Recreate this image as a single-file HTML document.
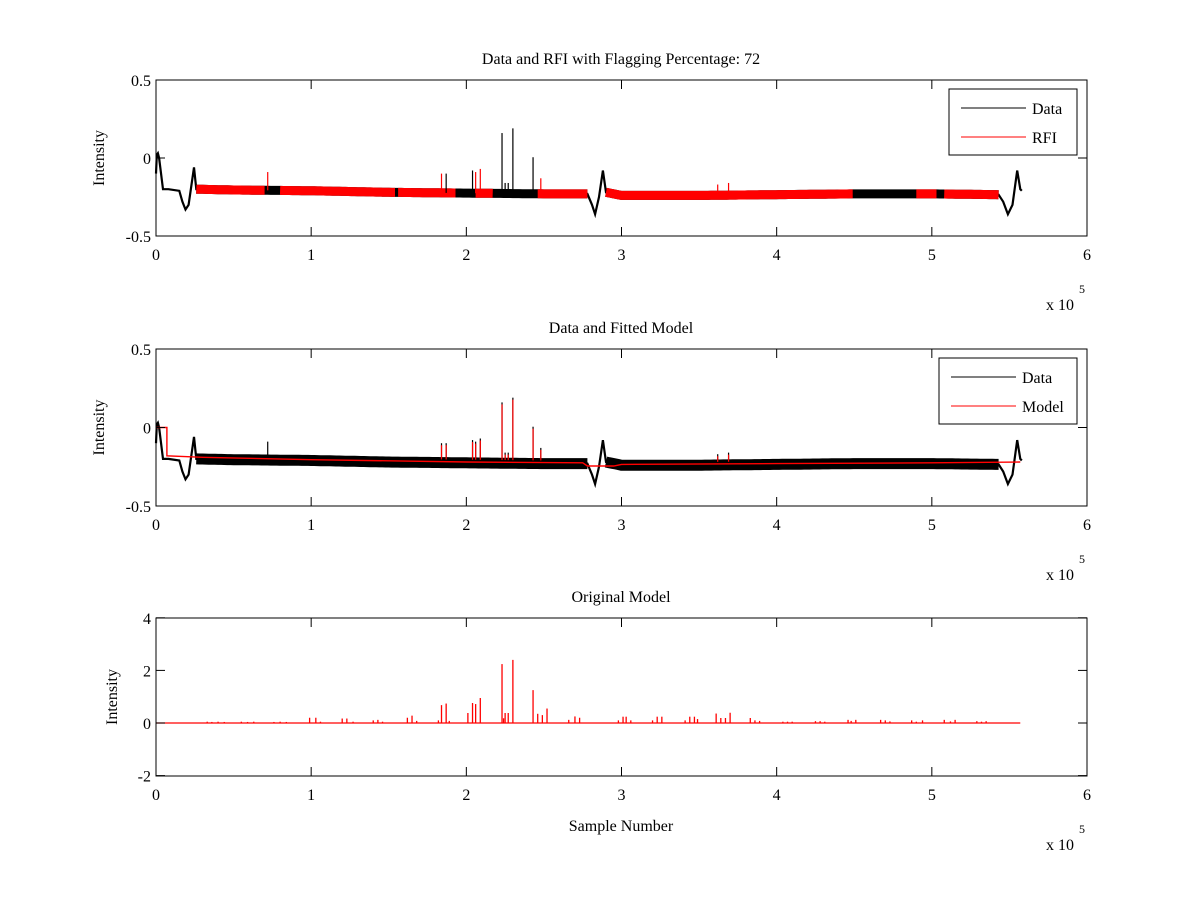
<!DOCTYPE html>
<html><head><meta charset="utf-8"><style>
html,body{margin:0;padding:0;background:#fff;}
svg{display:block;font-family:"Liberation Serif",serif;}
</style></head><body>
<svg id="chart" width="1200" height="900" viewBox="0 0 1200 900" xmlns="http://www.w3.org/2000/svg">
<rect width="1200" height="900" fill="#fff"/>
</svg>
<script>
// ---- data (x in units of 1e5 samples) ----
const trendX = [0, 0.005, 0.012, 0.02, 0.045, 0.08, 0.15, 0.17, 0.19, 0.21, 0.245, 0.26, 0.5, 1.0, 1.5, 2.0, 2.5, 2.78, 2.81, 2.83, 2.855, 2.88, 2.9, 3.0, 3.5, 4.0, 4.5, 5.0, 5.43, 5.46, 5.49, 5.52, 5.55, 5.57, 5.58];
const trendY = [-0.1, 0.02, 0.03, 0.0, -0.2, -0.2, -0.21, -0.28, -0.33, -0.3, -0.06, -0.2, -0.205, -0.21, -0.22, -0.225, -0.23, -0.23, -0.3, -0.36, -0.25, -0.08, -0.22, -0.24, -0.24, -0.235, -0.23, -0.23, -0.235, -0.28, -0.36, -0.3, -0.08, -0.2, -0.21];
const bandRanges = [[0.26, 2.78], [2.9, 5.43]];
const redRanges = [[0.26,0.70],[0.80,1.54],[1.56,1.93],[2.06,2.17],[2.46,2.78],[2.9,4.49],[4.9,5.03],[5.08,5.43]];
const topSpikeX = [0.72, 1.84, 1.87, 2.04, 2.06, 2.09, 2.23, 2.25, 2.27, 2.30, 2.43, 2.48, 3.62, 3.69];
const topSpikeY = [-0.09, -0.10, -0.10, -0.08, -0.09, -0.07, 0.16, -0.16, -0.16, 0.19, 0.005, -0.13, -0.17, -0.16];
const topSpikeRed = [1, 1, 0, 0, 1, 1, 0, 0, 0, 0, 0, 1, 1, 1];
const modelX = [0, 0.07, 0.07, 0.3, 1.0, 2.0, 2.75, 2.78, 2.95, 3.0, 4.0, 5.0, 5.57];
const modelY = [0.0, 0.0, -0.18, -0.19, -0.205, -0.22, -0.225, -0.245, -0.245, -0.235, -0.23, -0.225, -0.22];
const origX = [0.33,0.36,0.40,0.44, 0.55,0.59,0.63, 0.76,0.80,0.84, 0.99,1.03,1.06, 1.20,1.23,1.27, 1.40,1.43,1.46, 1.62,1.65,1.68, 1.82,1.84,1.87,1.89, 2.01,2.04,2.06,2.09, 2.23,2.24,2.25,2.27,2.30, 2.43,2.46,2.49,2.52, 2.66,2.70,2.73, 2.98,3.01,3.03,3.06, 3.20,3.23,3.26, 3.41,3.44,3.47,3.49, 3.61,3.64,3.67,3.70, 3.83,3.86,3.89, 4.04,4.07,4.10, 4.25,4.28,4.31, 4.46,4.48,4.51, 4.67,4.70,4.73, 4.87,4.90,4.94, 5.08,5.12,5.15, 5.29,5.32,5.35];
const origY = [0.05,0.04,0.05,0.04, 0.05,0.04,0.05, 0.04,0.05,0.04, 0.20,0.20,0.05, 0.17,0.17,0.05, 0.10,0.12,0.05, 0.20,0.28,0.08, 0.10,0.68,0.74,0.08, 0.38,0.76,0.72,0.95, 2.24,0.18,0.38,0.38,2.40, 1.25,0.35,0.30,0.55, 0.12,0.25,0.20, 0.10,0.24,0.24,0.10, 0.10,0.24,0.24, 0.10,0.24,0.24,0.15, 0.36,0.19,0.19,0.39, 0.19,0.10,0.08, 0.05,0.05,0.05, 0.07,0.07,0.05, 0.12,0.08,0.12, 0.12,0.10,0.06, 0.10,0.05,0.10, 0.12,0.06,0.12, 0.07,0.05,0.07];
const xTicks = [0,1,2,3,4,5,6];

const NS = "http://www.w3.org/2000/svg";
const svg = document.getElementById("chart");
function el(tag, attrs, parent, text) {
  const e = document.createElementNS(NS, tag);
  for (const k in attrs) e.setAttribute(k, attrs[k]);
  if (text !== undefined) e.textContent = text;
  (parent || svg).appendChild(e);
  return e;
}
const L = 156, R = 1087;
const xs = v => L + (v / 6) * (R - L);
function interp(x) {
  for (let i = 1; i < trendX.length; i++) {
    if (x <= trendX[i]) {
      const t = (x - trendX[i-1]) / (trendX[i] - trendX[i-1] || 1);
      return trendY[i-1] + t * (trendY[i] - trendY[i-1]);
    }
  }
  return trendY[trendY.length - 1];
}
function bandLine(x0, x1, ys) {
  const pts = [];
  const n = Math.max(2, Math.ceil((x1 - x0) / 0.02));
  for (let i = 0; i <= n; i++) {
    const xx = x0 + (x1 - x0) * i / n;
    pts.push(xs(xx).toFixed(1) + "," + ys(interp(xx)).toFixed(1));
  }
  return pts.join(" ");
}
function axes(g, top, bot, yTicks, ys, title, ylabel, ylabX, name) {
  el("rect", {x: L, y: top, width: R - L, height: bot - top, fill: "none", stroke: "#000", "stroke-width": 1}, g);
  xTicks.forEach(t => {
    const x = xs(t);
    el("line", {x1: x, y1: bot, x2: x, y2: bot - 9, stroke: "#000"}, g);
    el("line", {x1: x, y1: top, x2: x, y2: top + 9, stroke: "#000"}, g);
    const lab = el("text", {x: x, y: bot + 24, "text-anchor": "middle", "font-size": 16}, g, String(t));
    
    
  });
  yTicks.forEach(t => {
    const y = ys(t);
    el("line", {x1: L, y1: y, x2: L + 9, y2: y, stroke: "#000"}, g);
    el("line", {x1: R, y1: y, x2: R - 9, y2: y, stroke: "#000"}, g);
    const lab = el("text", {x: L - 5, y: y + 6, "text-anchor": "end", "font-size": 16}, g, String(t));
    
    
  });
  const tt = el("text", {x: 621, y: top - 16, "text-anchor": "middle", "font-size": 16}, g, title);
  
  
  const yl = el("text", {x: ylabX, y: (top + bot) / 2, "text-anchor": "middle", "font-size": 16, transform: `rotate(-90 ${ylabX} ${(top+bot)/2})`}, g, ylabel);
  
  
  const ex = el("text", {x: 1046, y: bot + 74, "font-size": 16}, g, "x 10");
  
  
  el("text", {x: 1079, y: bot + 57, "font-size": 12}, g, "5");
}
function legend(g, x, y, w, labels) {
  const box = el("rect", {x: x, y: y, width: w, height: 66, fill: "#fff", stroke: "#000"}, g);
  
  
  labels.forEach((lb, i) => {
    const ly = y + 19 + i * 29;
    el("line", {x1: x + 12, y1: ly, x2: x + 77, y2: ly, stroke: lb[1], "stroke-width": 1}, g);
    const t = el("text", {x: x + 83, y: ly + 6, "font-size": 16}, g, lb[0]);
    
    
  });
}
function dataTrace(g, ys, bandPx, redBand) {
  const pts = trendX.map((x, i) => xs(x).toFixed(1) + "," + ys(trendY[i]).toFixed(1)).join(" ");
  const line = el("polyline", {points: pts, fill: "none", stroke: "#000", "stroke-width": 2.2}, g);
  
  
  bandRanges.forEach(r => {
    const b = el("polyline", {points: bandLine(r[0], r[1], ys), fill: "none", stroke: "#000", "stroke-width": bandPx, "stroke-linecap": "butt"}, g);
    
    
  });
  if (redBand) redRanges.forEach(r => {
    const b = el("polyline", {points: bandLine(r[0], r[1], ys), fill: "none", stroke: "#f00", "stroke-width": bandPx, "stroke-linecap": "butt"}, g);
    
    
  });
}

// Panel 1
const g1 = el("g", {});  
const ys1 = v => 158 - v * 156;
dataTrace(g1, ys1, 9, true);
topSpikeX.forEach((x, i) => {
  const s = el("line", {x1: xs(x), x2: xs(x), y1: ys1(interp(x)), y2: ys1(topSpikeY[i]), stroke: topSpikeRed[i] ? "#f00" : "#000", "stroke-width": 1.2}, g1);
  
  
});
axes(g1, 80, 236, [-0.5, 0, 0.5], ys1, "Data and RFI with Flagging Percentage: 72", "Intensity", 104, "top-panel");
legend(g1, 949, 89, 128, [["Data", "#000"], ["RFI", "#f00"]]);

// Panel 2
const g2 = el("g", {});  
const ys2 = v => 427.5 - v * 157;
dataTrace(g2, ys2, 11, false);
topSpikeX.forEach((x, i) => {
  const s = el("line", {x1: xs(x), x2: xs(x), y1: ys2(interp(x)), y2: ys2(topSpikeY[i]), stroke: "#000", "stroke-width": 1.2}, g2);
  
  
});
const mp = modelX.map((x, i) => xs(x).toFixed(1) + "," + ys2(modelY[i]).toFixed(1)).join(" ");
const ml = el("polyline", {points: mp, fill: "none", stroke: "#f00", "stroke-width": 1.4}, g2);


topSpikeX.forEach((x, i) => {
  if (x === 0.72) return;
  const s = el("line", {x1: xs(x), x2: xs(x), y1: ys2(interp(x) + 0.02), y2: ys2(topSpikeY[i]) + 2, stroke: "#f00", "stroke-width": 1.2}, g2);
  
  
});
axes(g2, 349, 506, [-0.5, 0, 0.5], ys2, "Data and Fitted Model", "Intensity", 104, "middle-panel");
legend(g2, 939, 358, 138, [["Data", "#000"], ["Model", "#f00"]]);

// Panel 3
const g3 = el("g", {});  
const ys3 = v => 723 - v * 26.3;
const base = el("line", {x1: xs(0), x2: xs(5.57), y1: ys3(0), y2: ys3(0), stroke: "#f00", "stroke-width": 1.3}, g3);


origX.forEach((x, i) => {
  const s = el("line", {x1: xs(x), x2: xs(x), y1: ys3(0), y2: ys3(origY[i]), stroke: "#f00", "stroke-width": 1.3}, g3);
  
  
});
axes(g3, 618, 776, [-2, 0, 2, 4], ys3, "Original Model", "Intensity", 117, "bottom-panel");
const xl = el("text", {x: 621, y: 831, "text-anchor": "middle", "font-size": 16}, g3, "Sample Number");


</script>
</body></html>
